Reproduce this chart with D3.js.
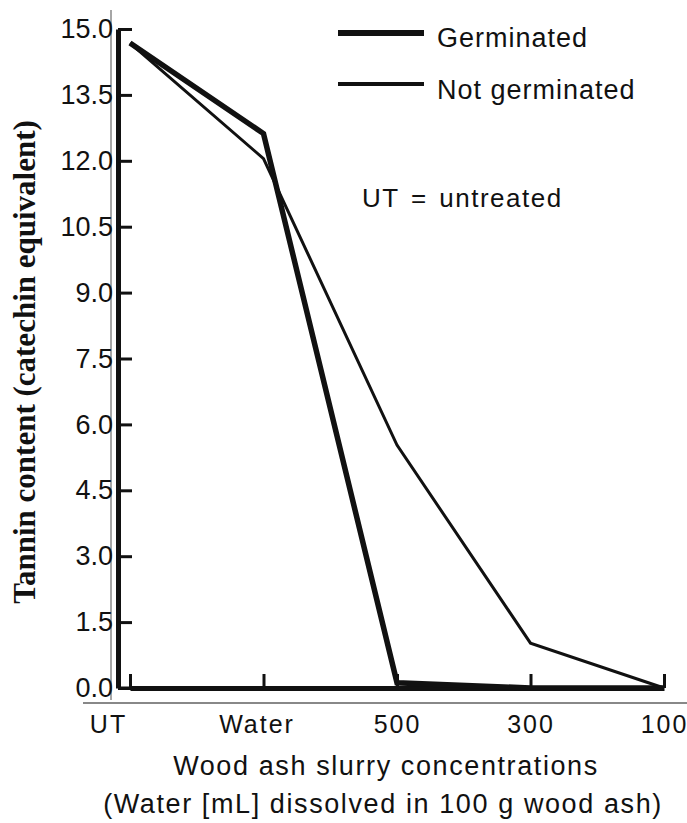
<!DOCTYPE html>
<html>
<head>
<meta charset="utf-8">
<script src="https://cdn.jsdelivr.net/npm/d3@7"></script>
<style>
  body { margin: 0; background: #fff; }
  text { font-family: "Liberation Sans", Arial, sans-serif; fill: #111; }
</style>
</head>
<body>
<div id="chart"></div>
<script>
// Data
const categories = ["UT", "Water", "500", "300", "100"];
const germinated = [14.68, 12.62, 0.12, 0.0, 0.0];
const notGerminated = [14.68, 12.05, 5.53, 1.02, 0.0];
const yTicks = [0, 1.5, 3, 4.5, 6, 7.5, 9, 10.5, 12, 13.5, 15];
const seriesNames = ["Germinated", "Not germinated"];

function draw() {
    // Dimensions
    const width = 687
    const height = 823
    const margin = { top: 29, right: 23, bottom: 135, left: 130 }
    const yAxisX = 118

    const svg = d3.select("#chart")
        .append("svg")
        .attr("width", width)
        .attr("height", height)

    svg.append("rect")
        .attr("width", width)
        .attr("height", height)
        .attr("fill", "#fff")

    const xScale = d3.scalePoint()
        .domain(categories)
        .range([margin.left, width - margin.right])

    const yScale = d3.scaleLinear()
        .domain([0, 15])
        .range([height - margin.bottom, margin.top])

    // thin frame lines from the scan
    svg.append("line")
        .attr("x1", 111).attr("x2", 111)
        .attr("y1", 10).attr("y2", yScale(0) + 12)
        .attr("stroke", "#888")
        .attr("stroke-width", 1.5)
    svg.append("line")
        .attr("x1", 83).attr("x2", width)
        .attr("y1", yScale(0) + 15).attr("y2", yScale(0) + 15)
        .attr("stroke", "#888")
        .attr("stroke-width", 2)

    // Y axis
    const yAxis = d3.axisLeft(yScale)
        .tickValues(yTicks)
        .tickFormat(d3.format(".1f"))
        .tickSizeInner(-14)
        .tickSizeOuter(0)
        .tickPadding(5)
    const yAxisGroup = svg.append("g")
        .attr("transform", `translate(${yAxisX}, 0)`)
        .call(yAxis)
    yAxisGroup.select(".domain")
        .attr("stroke", "#111")
        .attr("stroke-width", 5)
    yAxisGroup.selectAll(".tick line")
        .attr("stroke", "#111")
        .attr("stroke-width", 3)
    yAxisGroup.selectAll(".tick text")
        .style("font-size", "27px")
        .style("font-family", "'Liberation Sans', Arial, sans-serif")
        .attr("fill", "#111")

    // stub to the first x tick
    svg.append("line")
        .attr("x1", yAxisX).attr("x2", xScale(categories[0]))
        .attr("y1", yScale(0)).attr("y2", yScale(0))
        .attr("stroke", "#111")
        .attr("stroke-width", 3)

    // X axis
    const xAxis = d3.axisBottom(xScale)
        .tickSizeInner(-14)
        .tickSizeOuter(0)
        .tickPadding(27)
    const xAxisGroup = svg.append("g")
        .attr("transform", `translate(0, ${yScale(0)})`)
        .call(xAxis)
    xAxisGroup.select(".domain")
        .attr("stroke", "#111")
        .attr("stroke-width", 5)
    xAxisGroup.selectAll(".tick line")
        .attr("stroke", "#111")
        .attr("stroke-width", 3)
    xAxisGroup.selectAll(".tick text")
        .style("font-size", "25px")
        .style("letter-spacing", "2px")
        .style("font-family", "'Liberation Sans', Arial, sans-serif")
        .attr("fill", "#111")
        .attr("dx", (d, i) => i === 0 ? -22 : i === 1 ? -7 : 0)

    // Lines
    const line = d3.line()
        .x((d, i) => xScale(categories[i]))
        .y((d) => yScale(d))

    svg.append("path")
        .datum(notGerminated)
        .attr("d", line)
        .attr("fill", "none")
        .attr("stroke", "#111")
        .attr("stroke-width", 3)

    svg.append("path")
        .datum(germinated)
        .attr("d", line)
        .attr("fill", "none")
        .attr("stroke", "#111")
        .attr("stroke-width", 5.5)

    // Legend
    const legend = svg.append("g")
    const legendRows = [
        { name: seriesNames[0], y: 33, w: 6, ty: 47 },
        { name: seriesNames[1], y: 84, w: 4, ty: 99 },
    ]
    legendRows.forEach((r) => {
        legend.append("line")
            .attr("x1", 338).attr("x2", 424)
            .attr("y1", r.y).attr("y2", r.y)
            .attr("stroke", "#111")
            .attr("stroke-width", r.w)
        legend.append("text")
            .attr("x", 437)
            .attr("y", r.ty)
            .style("font-size", "27px")
            .style("letter-spacing", "1px")
            .text(r.name)
    })

    svg.append("text")
        .attr("x", 362)
        .attr("y", 207)
        .style("font-size", "26px")
        .style("letter-spacing", "1.5px")
        .style("word-spacing", "3px")
        .text("UT = untreated")

    // Axis titles
    svg.append("text")
        .attr("x", 386)
        .attr("y", 775)
        .attr("text-anchor", "middle")
        .style("font-size", "27px")
        .style("letter-spacing", "1.6px")
        .text("Wood ash slurry concentrations")

    svg.append("text")
        .attr("x", 383)
        .attr("y", 813)
        .attr("text-anchor", "middle")
        .style("font-size", "27px")
        .style("letter-spacing", "1.6px")
        .text("(Water [mL] dissolved in 100 g wood ash)")

    svg.append("text")
        .attr("transform", "rotate(-90)")
        .attr("x", -362)
        .attr("y", 35)
        .attr("text-anchor", "middle")
        .style("font-family", "'Liberation Serif', 'Times New Roman', serif")
        .style("font-weight", "bold")
        .style("font-size", "31px")
        .text("Tannin content (catechin equivalent)")
}

draw();
</script>
</body>
</html>
